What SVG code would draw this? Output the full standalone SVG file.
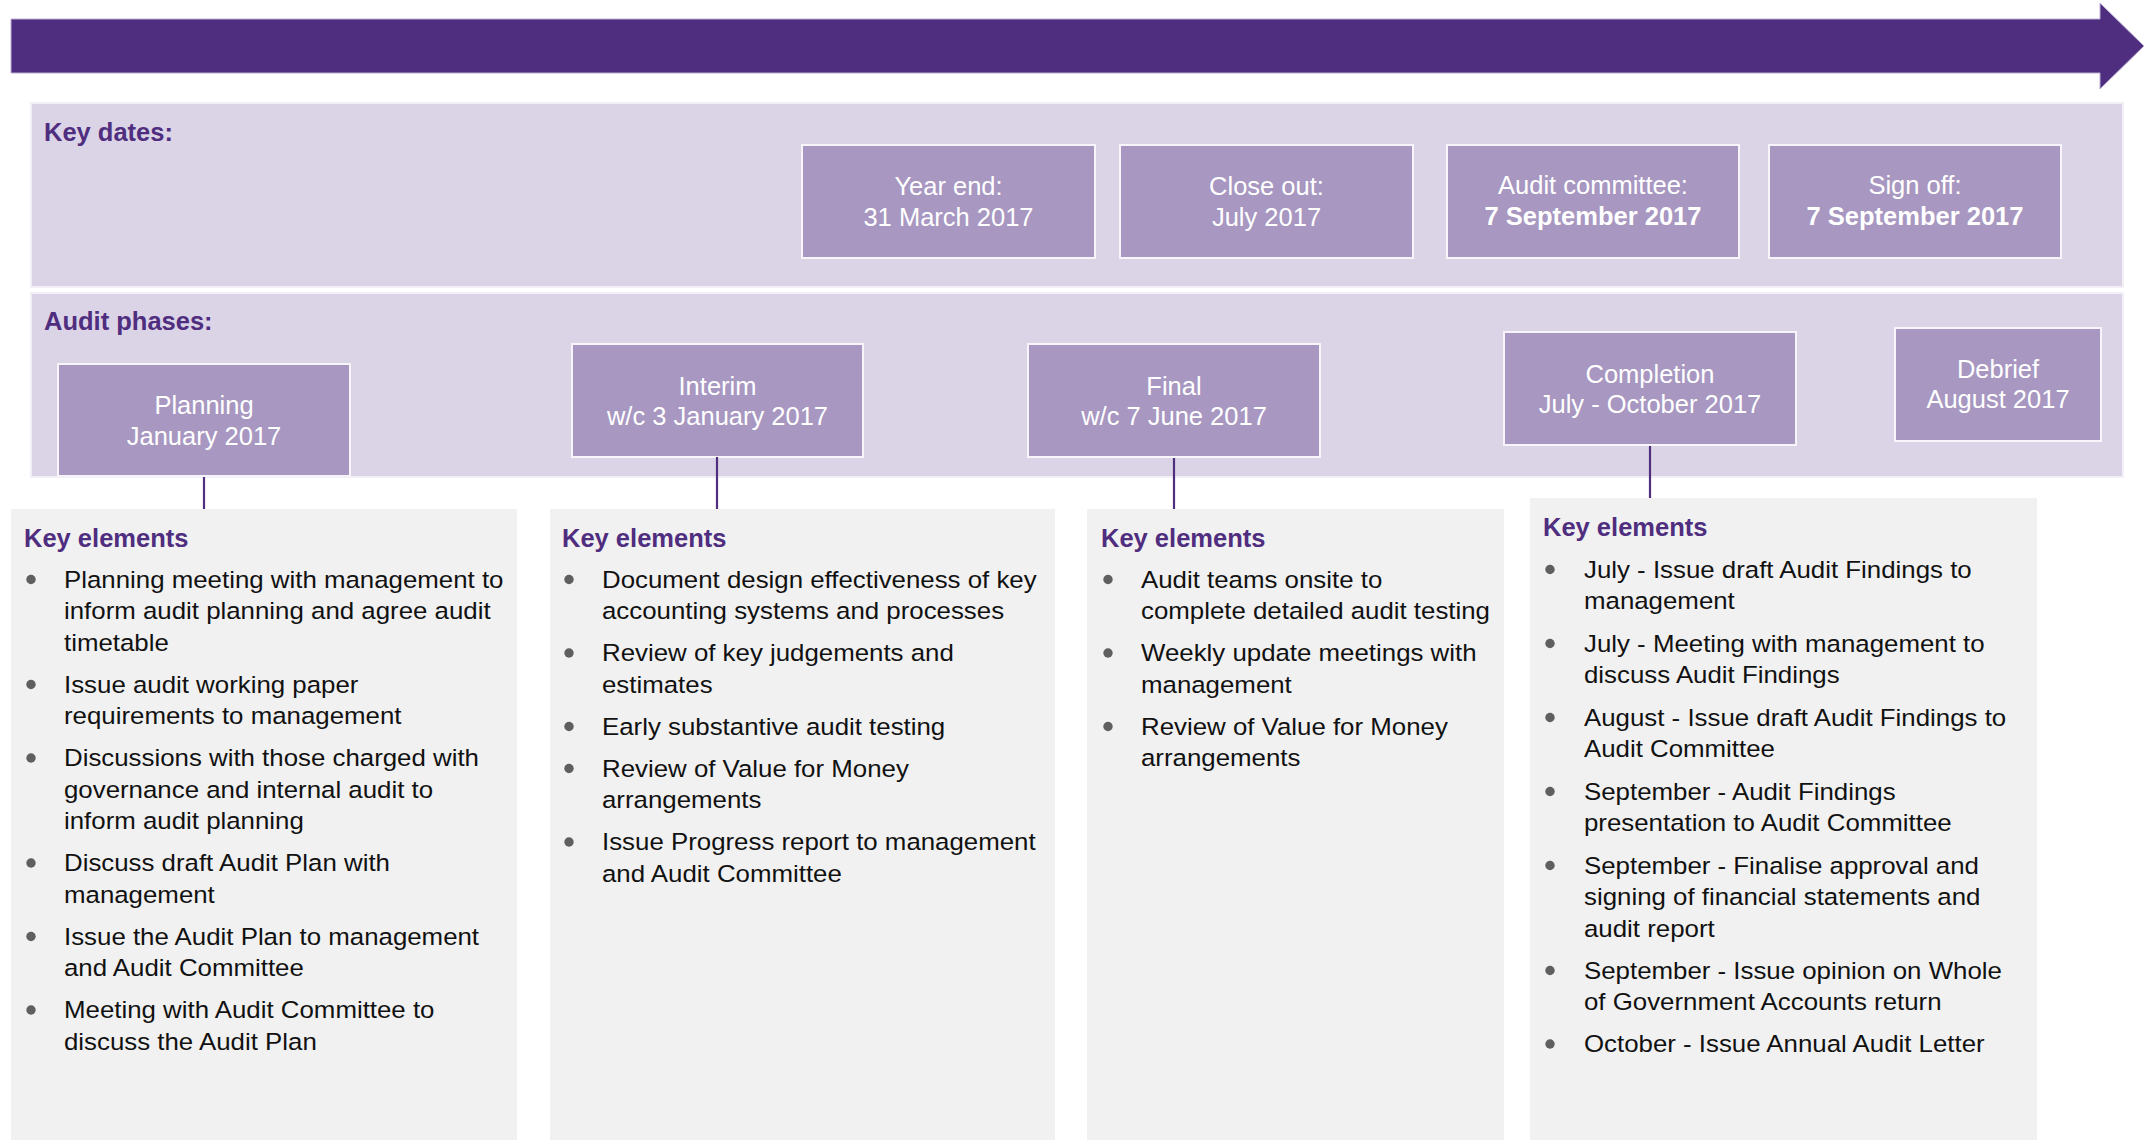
<svg xmlns="http://www.w3.org/2000/svg" width="2145" height="1140" viewBox="0 0 2145 1140">
<style>
.band{fill:#dbd4e6;stroke:#f2eff6;stroke-width:2}
.box{fill:#a797c1;stroke:#f7f4fa;stroke-width:2}
.btxt{font-family:"Liberation Sans",Arial,sans-serif;font-size:25.5px;fill:#ffffff;text-anchor:middle}
.bold{font-weight:bold}
.title{font-family:"Liberation Sans",Arial,sans-serif;font-size:25.5px;font-weight:bold;fill:#4f2d7f}
.panel{fill:#f1f1f1}
.body{font-family:"Liberation Sans",Arial,sans-serif;font-size:23.5px;fill:#111111}
.dot{fill:#5f5f5f}
.conn{stroke:#4f2d7f;stroke-width:2.2;fill:none}
</style>

<g id="timeline-arrow">
<polygon points="11,19 2100,19 2100,3 2144,46 2100,89 2100,73 11,73" fill="#4f2d7f" stroke="#bcaed3" stroke-width="1"/>
</g>

<g id="key-dates-band">
<rect class="band" x="31" y="103" width="2092" height="184"/>
<text class="title" x="44" y="141">Key dates:</text>
</g>
<g id="audit-phases-band">
<rect class="band" x="31" y="293" width="2092" height="184"/>
<text class="title" x="44" y="330">Audit phases:</text>
</g>

<g id="date-year-end">
<rect class="box" x="802" y="145" width="293" height="113"/>
<text class="btxt" x="948.5" y="195">Year end:</text>
<text class="btxt" x="948.5" y="226">31 March 2017</text>
</g>
<g id="date-close-out">
<rect class="box" x="1120" y="145" width="293" height="113"/>
<text class="btxt" x="1266.5" y="195">Close out:</text>
<text class="btxt" x="1266.5" y="226">July 2017</text>
</g>
<g id="date-audit-committee">
<rect class="box" x="1447" y="145" width="292" height="113"/>
<text class="btxt" x="1593" y="194">Audit committee:</text>
<text class="btxt bold" x="1593" y="225">7 September 2017</text>
</g>
<g id="date-sign-off">
<rect class="box" x="1769" y="145" width="292" height="113"/>
<text class="btxt" x="1915" y="194">Sign off:</text>
<text class="btxt bold" x="1915" y="225">7 September 2017</text>
</g>

<g id="phase-planning">
<rect class="box" x="58" y="364" width="292" height="112"/>
<text class="btxt" x="204" y="414">Planning</text>
<text class="btxt" x="204" y="445">January 2017</text>
</g>
<g id="phase-interim">
<rect class="box" x="572" y="344" width="291" height="113"/>
<text class="btxt" x="717.5" y="395">Interim</text>
<text class="btxt" x="717.5" y="425">w/c 3 January 2017</text>
</g>
<g id="phase-final">
<rect class="box" x="1028" y="344" width="292" height="113"/>
<text class="btxt" x="1174" y="395">Final</text>
<text class="btxt" x="1174" y="425">w/c 7 June 2017</text>
</g>
<g id="phase-completion">
<rect class="box" x="1504" y="332" width="292" height="113"/>
<text class="btxt" x="1650" y="383">Completion</text>
<text class="btxt" x="1650" y="413">July - October 2017</text>
</g>
<g id="phase-debrief">
<rect class="box" x="1895" y="328" width="206" height="113"/>
<text class="btxt" x="1998" y="378">Debrief</text>
<text class="btxt" x="1998" y="408">August 2017</text>
</g>

<g id="connectors">
<line class="conn" x1="204" y1="477" x2="204" y2="509"/>
<line class="conn" x1="717" y1="457" x2="717" y2="509"/>
<line class="conn" x1="1174" y1="458" x2="1174" y2="509"/>
<line class="conn" x1="1650" y1="446" x2="1650" y2="498"/>
</g>

<g id="elements-planning">
<rect class="panel" x="11" y="509" width="506" height="631"/>
<text class="title" x="24" y="547">Key elements</text>
<circle class="dot" cx="31" cy="579.5" r="4.7"/>
<circle class="dot" cx="31" cy="684.5" r="4.7"/>
<circle class="dot" cx="31" cy="758" r="4.7"/>
<circle class="dot" cx="31" cy="863" r="4.7"/>
<circle class="dot" cx="31" cy="936.5" r="4.7"/>
<circle class="dot" cx="31" cy="1010" r="4.7"/>
<g transform="translate(64 0) scale(1.1 1)">
<text class="body" x="0" y="588">Planning meeting with management to</text>
<text class="body" x="0" y="619.5">inform audit planning and agree audit</text>
<text class="body" x="0" y="651">timetable</text>
<text class="body" x="0" y="693">Issue audit working paper</text>
<text class="body" x="0" y="724.5">requirements to management</text>
<text class="body" x="0" y="766.5">Discussions with those charged with</text>
<text class="body" x="0" y="798">governance and internal audit to</text>
<text class="body" x="0" y="829.5">inform audit planning</text>
<text class="body" x="0" y="871.5">Discuss draft Audit Plan with</text>
<text class="body" x="0" y="903">management</text>
<text class="body" x="0" y="945">Issue the Audit Plan to management</text>
<text class="body" x="0" y="976.5">and Audit Committee</text>
<text class="body" x="0" y="1018.5">Meeting with Audit Committee to</text>
<text class="body" x="0" y="1050">discuss the Audit Plan</text>
</g>
</g>

<g id="elements-interim">
<rect class="panel" x="550" y="509" width="505" height="631"/>
<text class="title" x="562" y="547">Key elements</text>
<circle class="dot" cx="569" cy="579.5" r="4.7"/>
<circle class="dot" cx="569" cy="653" r="4.7"/>
<circle class="dot" cx="569" cy="726.5" r="4.7"/>
<circle class="dot" cx="569" cy="768.5" r="4.7"/>
<circle class="dot" cx="569" cy="842" r="4.7"/>
<g transform="translate(602 0) scale(1.1 1)">
<text class="body" x="0" y="588">Document design effectiveness of key</text>
<text class="body" x="0" y="619.5">accounting systems and processes</text>
<text class="body" x="0" y="661.5">Review of key judgements and</text>
<text class="body" x="0" y="693">estimates</text>
<text class="body" x="0" y="735">Early substantive audit testing</text>
<text class="body" x="0" y="777">Review of Value for Money</text>
<text class="body" x="0" y="808.5">arrangements</text>
<text class="body" x="0" y="850.5">Issue Progress report to management</text>
<text class="body" x="0" y="882">and Audit Committee</text>
</g>
</g>

<g id="elements-final">
<rect class="panel" x="1087" y="509" width="417" height="631"/>
<text class="title" x="1101" y="547">Key elements</text>
<circle class="dot" cx="1108" cy="579.5" r="4.7"/>
<circle class="dot" cx="1108" cy="653" r="4.7"/>
<circle class="dot" cx="1108" cy="726.5" r="4.7"/>
<g transform="translate(1141 0) scale(1.1 1)">
<text class="body" x="0" y="588">Audit teams onsite to</text>
<text class="body" x="0" y="619.5">complete detailed audit testing</text>
<text class="body" x="0" y="661.5">Weekly update meetings with</text>
<text class="body" x="0" y="693">management</text>
<text class="body" x="0" y="735">Review of Value for Money</text>
<text class="body" x="0" y="766.5">arrangements</text>
</g>
</g>

<g id="elements-completion">
<rect class="panel" x="1530" y="498" width="507" height="642"/>
<text class="title" x="1543" y="536">Key elements</text>
<circle class="dot" cx="1550" cy="569.5" r="4.7"/>
<circle class="dot" cx="1550" cy="643.5" r="4.7"/>
<circle class="dot" cx="1550" cy="717.5" r="4.7"/>
<circle class="dot" cx="1550" cy="791.5" r="4.7"/>
<circle class="dot" cx="1550" cy="865.5" r="4.7"/>
<circle class="dot" cx="1550" cy="970.5" r="4.7"/>
<circle class="dot" cx="1550" cy="1044" r="4.7"/>
<g transform="translate(1584 0) scale(1.1 1)">
<text class="body" x="0" y="578">July - Issue draft Audit Findings to</text>
<text class="body" x="0" y="609.5">management</text>
<text class="body" x="0" y="652">July - Meeting with management to</text>
<text class="body" x="0" y="683.5">discuss Audit Findings</text>
<text class="body" x="0" y="726">August - Issue draft Audit Findings to</text>
<text class="body" x="0" y="757.5">Audit Committee</text>
<text class="body" x="0" y="800">September - Audit Findings</text>
<text class="body" x="0" y="831.5">presentation to Audit Committee</text>
<text class="body" x="0" y="874">September - Finalise approval and</text>
<text class="body" x="0" y="905.5">signing of financial statements and</text>
<text class="body" x="0" y="937">audit report</text>
<text class="body" x="0" y="979">September - Issue opinion on Whole</text>
<text class="body" x="0" y="1010.5">of Government Accounts return</text>
<text class="body" x="0" y="1052.5">October - Issue Annual Audit Letter</text>
</g>
</g>
</svg>
